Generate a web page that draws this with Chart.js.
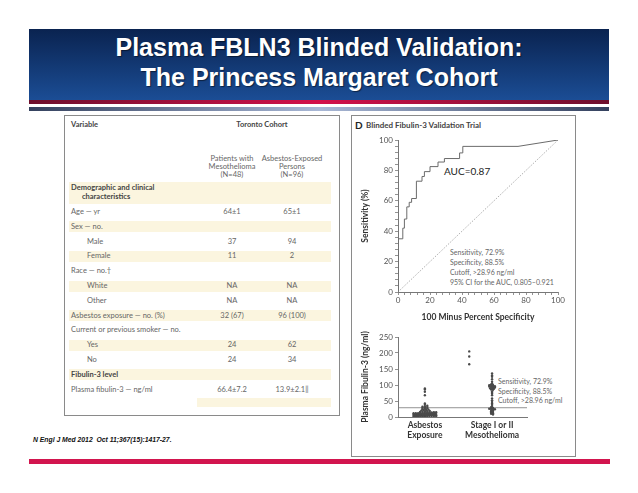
<!DOCTYPE html>
<html><head><meta charset="utf-8">
<script src="https://cdn.jsdelivr.net/npm/chart.js@4.4.1/dist/chart.umd.min.js"></script>
<style>
html,body{margin:0;padding:0;background:#fff;}
#page{position:relative;width:638px;height:493px;overflow:hidden;font-family:Lato,"Open Sans",sans-serif;}
.abs{position:absolute;white-space:nowrap;}
#band{left:29px;top:29px;width:580px;height:71px;background:linear-gradient(#0a2350,#1b4d95);}
#title{left:29px;top:29px;width:580px;text-align:center;color:#fff;font:bold 25px/30px "Liberation Sans",Arial,sans-serif;padding-top:3px;text-shadow:1px 1px 1px rgba(0,0,0,.5);}
#red1{left:29px;top:100px;width:580px;height:4px;background:linear-gradient(90deg,#6d0f2c,#d3104a 50%,#6d0f2c);}
#gray1{left:29px;top:107px;width:580px;height:4px;background:linear-gradient(90deg,#34415e,#a9b8d6 50%,#34415e);}
#red2{left:29px;top:459px;width:581px;height:5px;background:#d2154e;}
#tbox{left:64px;top:115px;width:274px;height:299px;border:1px solid #8a8a8a;}
#rbox{left:351px;top:115px;width:223px;height:340px;border:1px solid #8a8a8a;}
.t{font-size:7.5px;color:#666;line-height:10px;}
.tb{font-weight:bold;color:#444;}
.stripe{background:#fbf5df;}
.cc{width:64px;text-align:center;}
#cite{left:33px;top:435px;font:italic bold 6.8px/10px "Liberation Sans",Arial,sans-serif;color:#111;}
canvas{position:absolute;}
</style></head>
<body><div id="page">
<div id="band" class="abs"></div>
<div id="title" class="abs">Plasma FBLN3 Blinded Validation:<br>The Princess Margaret Cohort</div>
<div id="red1" class="abs"></div>
<div id="gray1" class="abs"></div>
<div id="tbox" class="abs"></div>
<div id="rbox" class="abs"></div>
<div id="cite" class="abs">N Engl J Med 2012&nbsp; Oct 11;367(15):1417-27.</div>
<div id="red2" class="abs"></div>
<canvas id="roc" width="222" height="195" style="left:352px;top:130px;width:222px;height:195px;"></canvas>
<canvas id="dots" width="222" height="118" style="left:352px;top:330px;width:222px;height:118px;"></canvas>
</div>
<script>
// ---- ROC curve (100 minus specificity, sensitivity) ----
const rocFpr = [0,0,3,3,4,4,5.5,5.5,7,7,8.5,8.5,11.5,11.5,15,15,16.5,16.5,20,20,25,25,29,29,38.5,38.5,40.5,40.5,75,100];
const rocTpr = [0,35,35,42,42,48,48,56,56,59,59,61.5,61.5,72.9,72.9,76,76,79.2,79.2,82.5,82.5,85.5,85.5,87.8,87.8,91.5,91.5,95.8,95.8,100];
const diagX = [0,100];
const diagY = [0,100];
// ---- Plasma fibulin-3 values (ng/ml) ----
const asbestosVals = [1,1,2,2,2,2,3,3,3,3,3,4,4,4,4,4,4,5,5,5,5,5,5,5,6,6,6,6,6,6,6,7,7,7,7,7,7,8,8,8,8,8,8,9,9,9,9,9,9,10,10,10,10,10,11,11,11,11,12,12,12,12,13,13,13,14,14,15,15,16,16,17,18,19,20,21,22,23,24,26,27,28,9,5,
  30,31,32,33,35,38,42,68,79,86,89];
const mesoVals = [136,130,126,118,110,105,102,100,99,98,97,96,95,94,93,92,90,89,88,86,85,80,76,73,68,58,52,47,42,38,34,31,
  28,26,27,25,24,22,20,18,16,14,12,10,8];
const mesoHigh = [205,189,165];
const cutoffVal = 28.96;
const groupLabels = [["Asbestos","Exposure"],["Stage I or II","Mesothelioma"]];
// ---- Table ----
const tableLabels = ["Age \u2014 yr","Sex \u2014 no.","Male","Female","Race \u2014 no.\u2020","White","Other","Asbestos exposure \u2014 no. (%)","Current or previous smoker \u2014 no.","Yes","No","Fibulin-3 level","Plasma fibulin-3 \u2014 ng/ml"];
const tableMeso = ["64\u00b11","","37","11","","NA","NA","32 (67)","","24","24","","66.4\u00b17.2"];
const tableAsb = ["65\u00b11","","94","2","","NA","NA","96 (100)","","62","34","","13.9\u00b12.1\u2016"];
const tableIndent = [0,0,1,1,0,1,1,0,0,1,1,0,0];
const tableBold = [0,0,0,0,0,0,0,0,0,0,0,1,0];

const page = document.getElementById('page');
function add(cls, html, css){
  const d=document.createElement('div'); d.className='abs '+cls; d.innerHTML=html;
  Object.assign(d.style, css); page.insertBefore(d, document.getElementById('roc')); return d;
}
// table
add('t tb','Variable',{left:'71px',top:'120px'});
add('t tb','Toronto Cohort',{left:'222px',top:'120px',width:'80px',textAlign:'center'});
add('t cc','Patients with<br>Mesothelioma<br>(N=48)',{left:'200px',top:'155px',lineHeight:'8px'});
add('t cc','Asbestos-Exposed<br>Persons<br>(N=96)',{left:'260px',top:'155px',lineHeight:'8px'});
add('stripe','',{left:'69px',top:'182px',width:'262px',height:'22px'});
add('t tb','Demographic and clinical<br>&nbsp;&nbsp;&nbsp;&nbsp;&nbsp;&nbsp;characteristics',{left:'71px',top:'184px',lineHeight:'8.5px'});
const rowY0 = 212, rowDy = 14.8;
tableLabels.forEach((lab,i)=>{
  const yc = rowY0 + i*rowDy;
  if(i%2===1) add('stripe','',{left:'69px',top:(yc-5.5)+'px',width:'262px',height:'11px'});
  add('t'+(tableBold[i]?' tb':''),lab,{left:(71+tableIndent[i]*16)+'px',top:(yc-5)+'px'});
  if(tableMeso[i]) add('t cc',tableMeso[i],{left:'200px',top:(yc-5)+'px'});
  if(tableAsb[i]) add('t cc',tableAsb[i],{left:'260px',top:(yc-5)+'px'});
});
add('stripe','',{left:'197px',top:'398px',width:'134px',height:'9px'});
// right panel texts
add('','D',{left:'355px',top:'119px',font:'bold 10px/12px Lato',color:'#222'});
add('','Blinded Fibulin-3 Validation Trial',{left:'366px',top:'120px',font:'bold 8px/10px Lato',color:'#444'});
add('','AUC=0.87',{left:'444px',top:'165px',font:'10px/12px Lato',color:'#222'});
add('','Sensitivity, 72.9%<br>Specificity, 88.5%<br>Cutoff, &gt;28.96 ng/ml<br>95% CI for the AUC, 0.805\u20130.921',{left:'450px',top:'247px',font:'7px/10px Lato',color:'#666'});
add('','Sensitivity, 72.9%<br>Specificity, 88.5%<br>Cutoff, &gt;28.96 ng/ml',{left:'498px',top:'377px',font:'7px/9.5px Lato',color:'#666'});

const axisCol = '#777';
const tickFont = {family:'Lato', size:8};
const titleFont = {family:'Lato', size:8.5, weight:'bold'};

new Chart(document.getElementById('roc'), {
  type:'scatter',
  data:{datasets:[
    {data: rocFpr.map((x,i)=>({x, y:rocTpr[i]})), showLine:true, borderColor:'#6b6b6b', borderWidth:1, pointRadius:0, fill:false},
    {data: diagX.map((x,i)=>({x, y:diagY[i]})), showLine:true, borderColor:'#999', borderWidth:0.8, borderDash:[1.5,1.5], pointRadius:0}
  ]},
  options:{
    responsive:false, animation:false, events:[],
    layout:{padding:{left:0,right:16,top:10,bottom:0}},
    plugins:{legend:{display:false}, tooltip:{enabled:false}},
    scales:{
      x:{type:'linear',min:0,max:100,
        ticks:{stepSize:4,autoSkip:false,maxRotation:0,minRotation:0,padding:1,font:tickFont,color:'#555',callback:v=> v%20===0? String(v):''},
        grid:{drawOnChartArea:false,drawTicks:true,tickLength:3,color:axisCol,lineWidth:0.8},
        border:{color:axisCol,width:1},
        title:{display:true,text:'100 Minus Percent Specificity',font:titleFont,color:'#333',padding:{top:0,bottom:3}},
        afterFit:s=>{s.height=33;}},
      y:{type:'linear',min:0,max:100,
        ticks:{stepSize:4,autoSkip:false,padding:2,font:tickFont,color:'#555',callback:v=> v%20===0? String(v):''},
        grid:{drawOnChartArea:false,drawTicks:true,tickLength:3,color:axisCol,lineWidth:0.8},
        border:{color:axisCol,width:1},
        title:{display:true,text:'Sensitivity (%)',font:titleFont,color:'#333',padding:{top:8,bottom:0}},
        afterFit:s=>{s.width=46;}}
    }
  }
});

const groupPos = [1, 3.5];
const highPos = 2.65;
function swarm(vals, center, binSize, step, maxHalf){
  const bins = {};
  vals.forEach(v=>{const b=Math.floor(v/binSize); (bins[b]=bins[b]||[]).push(v);});
  const pts=[];
  Object.values(bins).forEach(arr=>{
    const n=arr.length; const s=Math.min(step, 2*maxHalf/Math.max(n-1,1));
    arr.forEach((v,i)=>pts.push({x:center+(i-(n-1)/2)*s, y:v}));
  });
  return pts;
}
const dotStyle = {pointRadius:1.2, pointBackgroundColor:'#4a4a4a', pointBorderWidth:0, showLine:false};
new Chart(document.getElementById('dots'), {
  type:'scatter',
  data:{datasets:[
    Object.assign({data: swarm(asbestosVals, groupPos[0], 4, 0.09, 0.42)}, dotStyle),
    Object.assign({data: swarm(mesoVals, groupPos[1], 4, 0.07, 0.11)}, dotStyle),
    Object.assign({data: mesoHigh.map(v=>({x:highPos, y:v}))}, dotStyle),
    {data:[{x:0,y:cutoffVal},{x:4.8,y:cutoffVal}], showLine:true, borderColor:'#777', borderWidth:0.8, pointRadius:0}
  ]},
  options:{
    responsive:false, animation:false, events:[],
    layout:{padding:{left:0,right:47,top:7,bottom:0}},
    plugins:{legend:{display:false}, tooltip:{enabled:false}},
    scales:{
      x:{type:'linear',min:0,max:4.8,
        afterBuildTicks:s=>{s.ticks=groupPos.map(v=>({value:v}));},
        ticks:{autoSkip:false,maxRotation:0,minRotation:0,padding:3,font:titleFont,color:'#333',callback:(v,i)=>groupLabels[i]},
        grid:{drawOnChartArea:false,drawTicks:false,color:axisCol},
        border:{color:axisCol,width:1},
        afterFit:s=>{s.height=31;}},
      y:{type:'linear',min:0,max:250,
        ticks:{stepSize:50,padding:2,font:tickFont,color:'#555'},
        grid:{drawOnChartArea:false,drawTicks:true,tickLength:3,color:axisCol,lineWidth:0.8},
        border:{color:axisCol,width:1},
        title:{display:true,text:'Plasma Fibulin-3 (ng/ml)',font:titleFont,color:'#333',padding:{top:8,bottom:0}},
        afterFit:s=>{s.width=46;}}
    }
  }
});
</script>
</body></html>
